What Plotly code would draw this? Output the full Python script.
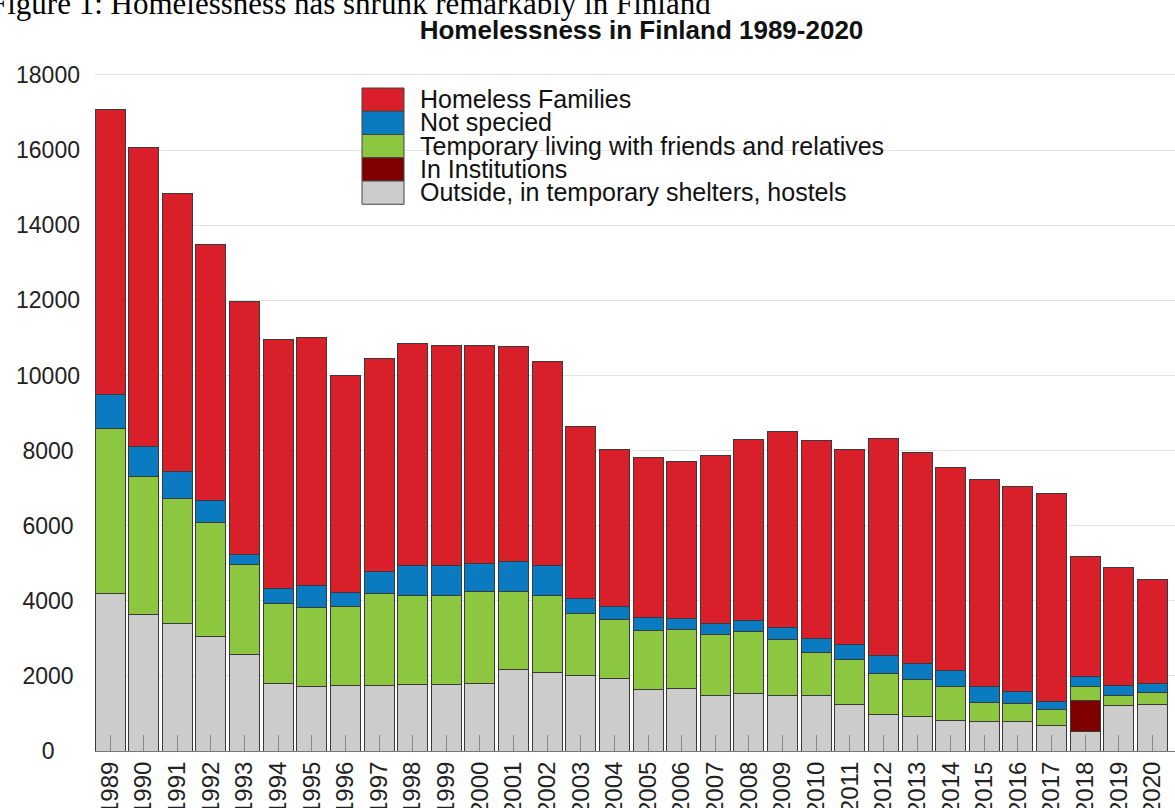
import plotly.graph_objects as go

# ---------------- data ----------------
years = ["1989", "1990", "1991", "1992", "1993", "1994", "1995", "1996",
         "1997", "1998", "1999", "2000", "2001", "2002", "2003", "2004",
         "2005", "2006", "2007", "2008", "2009", "2010", "2011", "2012",
         "2013", "2014", "2015", "2016", "2017", "2018", "2019", "2020"]

outside = [4200, 3630, 3390, 3040, 2570, 1790, 1720, 1750,
           1745, 1775, 1760, 1810, 2180, 2085, 2005, 1935,
           1640, 1670, 1490, 1535, 1490, 1465, 1250, 985,
           915, 800, 780, 780, 685, 515, 1200, 1245]

institutions = [0, 0, 0, 0, 0, 0, 0, 0,
                0, 0, 0, 0, 0, 0, 0, 0,
                0, 0, 0, 0, 0, 0, 0, 0,
                0, 0, 0, 0, 0, 825, 0, 0]

temporary = [4390, 3680, 3330, 3040, 2400, 2150, 2110, 2110,
             2445, 2365, 2390, 2430, 2080, 2065, 1660, 1555,
             1565, 1570, 1600, 1640, 1485, 1170, 1175, 1085,
             995, 915, 515, 490, 425, 390, 280, 325]

not_specified = [890, 810, 710, 580, 270, 390, 570, 360,
                 590, 810, 780, 765, 780, 785, 400, 350,
                 355, 290, 310, 310, 310, 355, 415, 460,
                 425, 435, 435, 310, 205, 265, 275, 215]

families = [7610, 7950, 7410, 6830, 6720, 6630, 6620, 5790,
            5670, 5890, 5860, 5805, 5730, 5430, 4585, 4200,
            4250, 4190, 4460, 4805, 5220, 5270, 5190, 5795,
            5625, 5410, 5500, 5475, 5530, 3180, 3125, 2785]

series_names = ["Outside, in temporary shelters, hostels",
                "In Institutions",
                "Temporary living with friends and relatives",
                "Not specied",
                "Homeless Families"]
series_values = [outside, institutions, temporary, not_specified, families]
series_colors = ["#CCCCCC", "#800000", "#8DC63F", "#0A7BC1", "#D9202A"]

y_tick_vals = [0, 2000, 4000, 6000, 8000, 10000, 12000, 14000, 16000, 18000]

title_text = "Homelessness in Finland 1989-2020"
caption_text = "Figure 1: Homelessness has shrunk remarkably in Finland"

# ---------------- geometry ----------------
W, H = 1175, 808
L, R, T, B = 95, 0, 70, 57
PW, PH = W - L - R, H - T - B
FONT = "Liberation Sans, Arial, sans-serif"


def px_x(px):
    return (px - L) / PW


def px_y(py):
    return (H - B - py) / PH


NBSP = "\u00a0"
max_len = max(len(str(v)) for v in y_tick_vals)
y_tick_text = [str(v) + NBSP * (max_len - len(str(v))) for v in y_tick_vals]

fig = go.Figure()
for name, vals, col in zip(series_names, series_values, series_colors):
    fig.add_trace(go.Bar(
        x=years, y=vals, name=name,
        marker=dict(color=col, line=dict(color="#3a3a3a", width=1)),
        showlegend=False,
    ))

# custom legend (top of stack first)
shapes = []
annotations = []
row_h = 23.25
top0 = 88
for i, idx in enumerate(reversed(range(len(series_names)))):
    top = top0 + i * row_h
    shapes.append(dict(type="rect", xref="paper", yref="paper",
                       x0=px_x(362), x1=px_x(404),
                       y0=px_y(top + row_h), y1=px_y(top),
                       fillcolor=series_colors[idx],
                       line=dict(color="#444444", width=1)))
    annotations.append(dict(text=series_names[idx], xref="paper", yref="paper",
                            x=px_x(418), y=px_y(top + row_h / 2 - 0.5),
                            xanchor="left", yanchor="middle", showarrow=False,
                            font=dict(family=FONT, size=25, color="#111111")))

annotations.append(dict(text=caption_text, xref="paper", yref="paper",
                        x=px_x(713), y=px_y(23.5),
                        xanchor="right", yanchor="bottom", showarrow=False,
                        font=dict(family="Liberation Serif, Times New Roman, serif",
                                  size=31, color="#000000")))

fig.update_layout(
    template="none",
    width=W, height=H,
    margin=dict(l=L, r=R, t=T, b=B, autoexpand=False),
    paper_bgcolor="white", plot_bgcolor="white",
    barmode="stack", bargap=0.108,
    title=dict(text="<b>" + title_text + "</b>", xref="container", yref="container",
               x=641.5 / W, y=1 - 29.5 / H, xanchor="center", yanchor="middle",
               font=dict(family=FONT, size=26, color="#111111")),
    xaxis=dict(type="category", categoryorder="array", categoryarray=years,
               range=[-0.446, 31.669], tickangle=-90,
               ticks="inside", ticklen=16, tickcolor="#888888", tickwidth=1,
               showline=True, linecolor="#777777", linewidth=1,
               showgrid=False, zeroline=False, automargin=False,
               tickfont=dict(family=FONT, size=24, color="#222222")),
    yaxis=dict(range=[0, 18133], tickvals=y_tick_vals, ticktext=y_tick_text,
               showgrid=True, gridcolor="#e3e3e3", gridwidth=1,
               zeroline=False, showline=False, ticks="",
               ticklabelstandoff=14, automargin=False,
               tickfont=dict(family=FONT, size=23, color="#222222")),
    shapes=shapes,
    annotations=annotations,
)

fig.write_html("out.html",
               config={"displayModeBar": False, "staticPlot": True},
               post_script="document.body.style.margin='0px';"
                           "document.body.style.overflow='hidden';")
